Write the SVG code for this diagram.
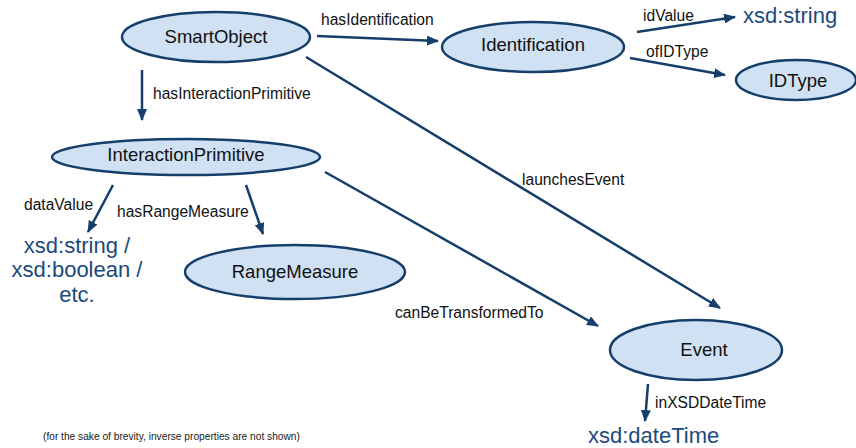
<svg xmlns="http://www.w3.org/2000/svg" width="856" height="448" viewBox="0 0 856 448">
<style>
.node ellipse{fill:#cfe1f3;stroke:#153e6b;stroke-width:2.5}
.nt{font-family:"Liberation Sans",Arial,sans-serif;font-size:18.5px;fill:#111;text-anchor:middle}
.lbl{font-family:"Liberation Sans",Arial,sans-serif;font-size:15.6px;fill:#111}
.lit{font-family:"Liberation Sans",Arial,sans-serif;font-size:22px;fill:#1c4a7c}
.edges line{stroke:#153e6b;stroke-width:2.5;marker-end:url(#arr)}
.note{font-family:"Liberation Sans",Arial,sans-serif;font-size:10.2px;fill:#222}
</style>
<defs>
<marker id="arr" viewBox="0 0 12 10" refX="11" refY="5" markerWidth="12" markerHeight="10" markerUnits="userSpaceOnUse" orient="auto">
<path d="M0,0 L12,5 L0,10 Z" fill="#153e6b"/>
</marker>
</defs>
<g id="edges" class="edges">
<line x1="317" y1="36" x2="438" y2="41"/>
<line x1="306" y1="57" x2="720" y2="308"/>
<line x1="142" y1="70" x2="142" y2="120"/>
<line x1="637" y1="32" x2="735" y2="17"/>
<line x1="630" y1="58" x2="725" y2="75"/>
<line x1="113" y1="185" x2="88" y2="232"/>
<line x1="246" y1="185" x2="263" y2="234"/>
<line x1="325" y1="172" x2="598" y2="326"/>
<line x1="648" y1="384" x2="645" y2="421"/>
</g>
<g id="edge-labels">
<text class="lbl" x="321" y="25">hasIdentification</text>
<text class="lbl" x="153" y="99">hasInteractionPrimitive</text>
<text class="lbl" x="522" y="185">launchesEvent</text>
<text class="lbl" x="643" y="21">idValue</text>
<text class="lbl" x="646" y="57">ofIDType</text>
<text class="lbl" x="24" y="210">dataValue</text>
<text class="lbl" x="117" y="217">hasRangeMeasure</text>
<text class="lbl" x="395" y="318">canBeTransformedTo</text>
<text class="lbl" x="655" y="408">inXSDDateTime</text>
</g>
<g id="SmartObject" class="node"><ellipse cx="216" cy="37" rx="94" ry="25"/><text class="nt" x="216" y="43">SmartObject</text></g>
<g id="Identification" class="node"><ellipse cx="533" cy="47" rx="91" ry="25"/><text class="nt" x="533" y="51">Identification</text></g>
<g id="IDType" class="node"><ellipse cx="796" cy="80" rx="60" ry="20"/><text class="nt" x="798" y="87">IDType</text></g>
<g id="InteractionPrimitive" class="node"><ellipse cx="186" cy="157" rx="134" ry="18"/><text class="nt" x="186" y="161">InteractionPrimitive</text></g>
<g id="RangeMeasure" class="node"><ellipse cx="295" cy="272" rx="110" ry="27"/><text class="nt" x="295" y="278">RangeMeasure</text></g>
<g id="Event" class="node"><ellipse cx="696" cy="350" rx="86" ry="30"/><text class="nt" x="704" y="356">Event</text></g>
<g id="lit-string"><text class="lit" x="743" y="23">xsd:string</text></g>
<g id="lit-datavalue"><text class="lit" text-anchor="middle"><tspan x="77" y="253">xsd:string /</tspan><tspan x="77" y="277">xsd:boolean /</tspan><tspan x="77" y="302">etc.</tspan></text></g>
<g id="lit-datetime"><text class="lit" x="588" y="443">xsd:dateTime</text></g>
<text class="note" x="43" y="440">(for the sake of brevity, inverse properties are not shown)</text>
</svg>
